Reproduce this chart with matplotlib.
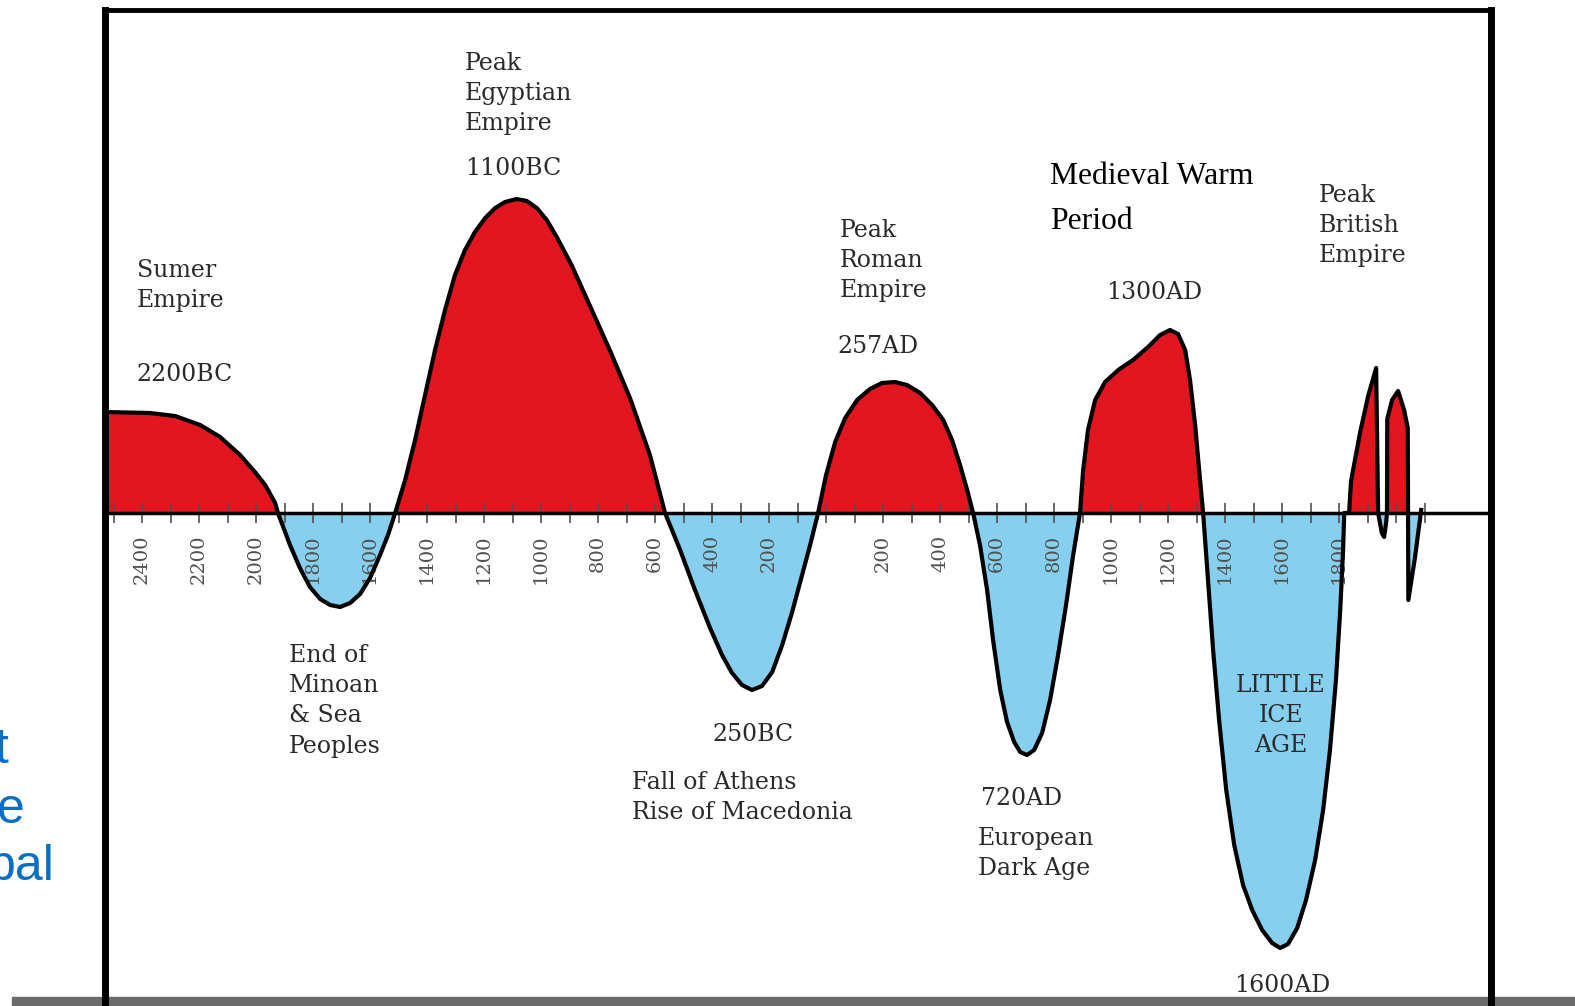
import numpy as np
import matplotlib.pyplot as plt
from matplotlib.patches import Rectangle

# curve: year (negative = BC) and temperature swing (arbitrary units)
years = np.array([
    -2530, -2372, -2284, -2196, -2126, -2056, -2004, -1968, -1933, -1923,
    -1881, -1846, -1811, -1775, -1740, -1705, -1670, -1635, -1600, -1565, -1537, -1512,
    -1477, -1442, -1407, -1372, -1337, -1302, -1267, -1232, -1196, -1161, -1126, -1086,
    -1050, -1015, -980, -945, -893, -825, -756, -688, -618, -565,
    -512, -460, -407, -365, -330, -295, -260, -225, -189, -154, -119, -84, -56, -28,
    0, 32, 67, 109, 154, 196, 242, 284, 330, 372, 411, 442, 470, 495, 516,
    540, 565, 586, 611, 635, 660, 681, 705, 730, 758, 786, 814, 842, 867, 891,
    902, 919, 944, 979, 1025, 1077, 1130, 1172, 1207, 1235, 1260, 1277, 1295, 1309, 1323,
    1340, 1358, 1379, 1404, 1432, 1463, 1495, 1530, 1565, 1593, 1621, 1653, 1684, 1716,
    1744, 1768, 1789, 1804, 1814, 1818,
    1835, 1842, 1874, 1902, 1930, 1937, 1950, 1958, 1965, 1968,
    1969, 1986, 2007, 2028, 2041, 2042, 2043, 2066, 2088,
])
anomaly = np.array([
    1.01, 1.00, 0.97, 0.88, 0.76, 0.58, 0.41, 0.28, 0.10, 0.0,
    -0.32, -0.55, -0.74, -0.86, -0.92, -0.94, -0.90, -0.81, -0.65, -0.42, -0.22, 0.0,
    0.33, 0.73, 1.18, 1.63, 2.03, 2.38, 2.63, 2.81, 2.95, 3.05, 3.11, 3.14,
    3.12, 3.05, 2.93, 2.76, 2.48, 2.05, 1.61, 1.15, 0.58, 0.0,
    -0.37, -0.77, -1.15, -1.42, -1.60, -1.72, -1.77, -1.73, -1.59, -1.32, -0.99, -0.62, -0.32, 0.0,
    0.38, 0.71, 0.95, 1.13, 1.24, 1.30, 1.31, 1.28, 1.20, 1.08, 0.93, 0.73, 0.48, 0.23, 0.0,
    -0.32, -0.77, -1.27, -1.77, -2.09, -2.29, -2.39, -2.42, -2.37, -2.20, -1.87, -1.42, -0.92, -0.42, 0.0,
    0.43, 0.83, 1.13, 1.31, 1.43, 1.53, 1.66, 1.78, 1.83, 1.79, 1.63, 1.33, 0.88, 0.43, 0.0,
    -0.67, -1.37, -2.07, -2.77, -3.32, -3.72, -3.97, -4.17, -4.30, -4.35, -4.31, -4.15, -3.87, -3.47,
    -2.97, -2.37, -1.67, -0.97, -0.37, 0.0,
    0.0, 0.32, 0.81, 1.17, 1.45, 0.0, -0.20, -0.24, -0.10, 0.0,
    0.94, 1.13, 1.22, 1.03, 0.85, 0.0, -0.87, -0.45, 0.03,
])

major_ticks = [-2400, -2200, -2000, -1800, -1600, -1400, -1200, -1000, -800, -600, -400, -200,
               200, 400, 600, 800, 1000, 1200, 1400, 1600, 1800]
tick_labels = [str(abs(t)) for t in major_ticks]
minor_ticks = list(range(-2500, 2101, 100))

# annotation texts with (year, value) of their top-left corner
labels = ["Sumer\nEmpire", "2200BC", "Peak\nEgyptian\nEmpire", "1100BC",
          "Peak\nRoman\nEmpire", "257AD", "1300AD", "Peak\nBritish\nEmpire",
          "End of\nMinoan\n& Sea\nPeoples", "250BC", "Fall of Athens\nRise of Macedonia",
          "720AD", "European\nDark Age", "1600AD"]
label_x = [-2418, -2418, -1267, -1267, 49, 39, 982, 1730, -1884, -400, -681, 544, 533, 1432]
label_y = [2.54, 1.50, 4.61, 3.56, 2.94, 1.78, 2.32, 3.29, -1.31, -2.10, -2.58, -2.74, -3.14, -4.61]

RED = '#e3151f'
BLUE = '#86cfef'

fig = plt.figure(figsize=(15.75, 10.06), dpi=100)
ax = fig.add_axes([105 / 1575, -24 / 1006, (1491 - 105) / 1575, 1020 / 1006])
ax.patch.set_visible(False)

ax.fill_between(years, anomaly, 0, where=anomaly >= 0, interpolate=True, color=RED, lw=0, zorder=1)
ax.fill_between(years, anomaly, 0, where=anomaly <= 0, interpolate=True, color=BLUE, lw=0, zorder=1)
ax.plot(years, anomaly, color='black', lw=3.0, solid_joinstyle='round', zorder=4)

ax.set_xlim(-2530, 2333)
ax.set_ylim(-5.17, 5.03)

for side in ['left', 'right']:
    ax.spines[side].set_linewidth(5)
ax.spines['top'].set_linewidth(3.5)
ax.spines['bottom'].set_position(('data', 0))
ax.spines['bottom'].set_linewidth(2.5)

ax.set_yticks([])
ax.set_xticks(major_ticks)
ax.set_xticklabels(tick_labels, rotation=90, family='DejaVu Serif', fontsize=14, color='#505050')
ax.set_xticks(minor_ticks, minor=True)
ax.tick_params(axis='x', which='both', direction='inout', length=15, width=1.2, color='#505050', pad=8)

for txt, x, y in zip(labels, label_x, label_y):
    ax.text(x, y, txt, ha='left', va='top', family='DejaVu Serif', fontsize=17,
            color='#2a2a2a', linespacing=1.4, zorder=5)

ax.text(786, 3.51, "Medieval Warm\nPeriod", ha='left', va='top', family='Liberation Serif',
        fontsize=22.8, color='black', linespacing=1.75, zorder=5)
ax.text(1596, -1.61, "LITTLE\nICE\nAGE", ha='center', va='top', family='DejaVu Serif',
        fontsize=17, color='#2a2a2a', linespacing=1.4, zorder=5)

# cut-off blue words on the left edge
fig.text(8 / 1575, 1 - 763 / 1006, "t", ha='right', va='baseline', family='Liberation Sans',
         fontsize=36, color='#0a6fc2')
fig.text(25 / 1575, 1 - 823 / 1006, "e", ha='right', va='baseline', family='Liberation Sans',
         fontsize=36, color='#0a6fc2')
fig.text(55 / 1575, 1 - 880 / 1006, "bal", ha='right', va='baseline', family='Liberation Sans',
         fontsize=36, color='#0a6fc2')

# grey bar at the bottom of the screenshot
fig.patches.append(Rectangle((12 / 1575, 0), 1, 9 / 1006, transform=fig.transFigure,
                             color='#6b6b6b', zorder=-1))

fig.savefig('out.png', dpi=100)
